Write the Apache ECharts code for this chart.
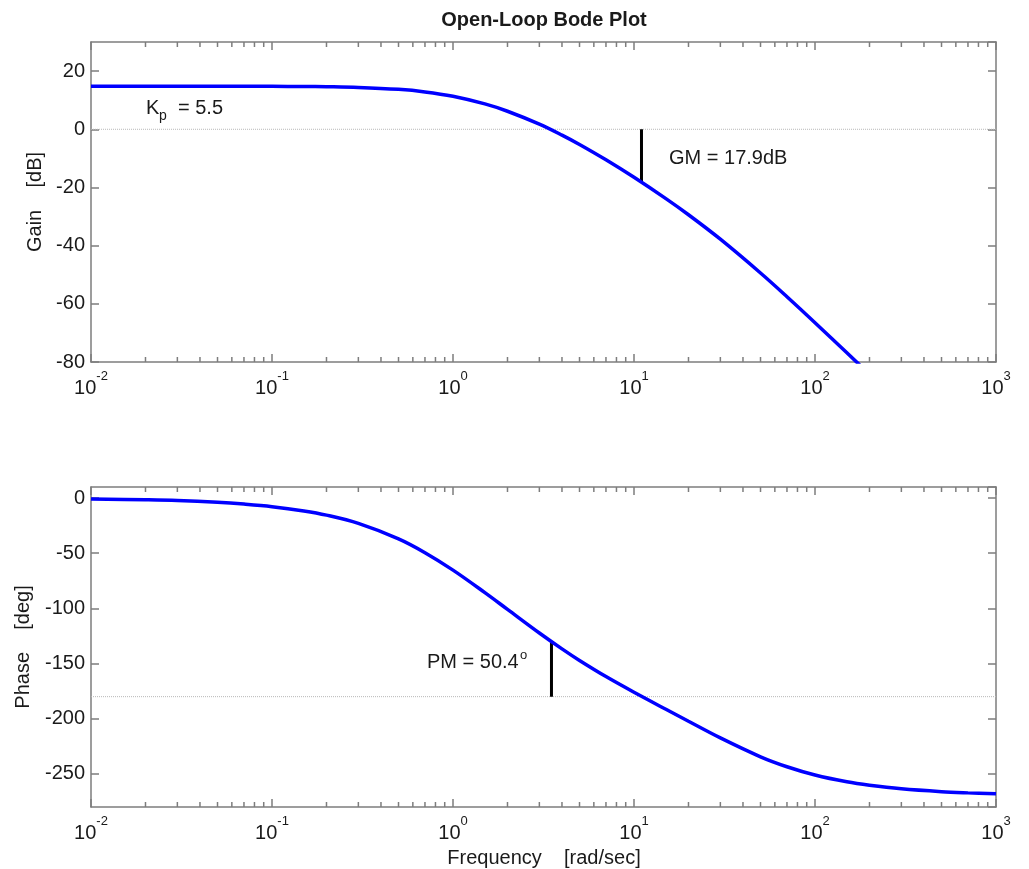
<!DOCTYPE html>
<html>
<head>
<meta charset="utf-8">
<script src="https://cdn.jsdelivr.net/npm/echarts@6/dist/echarts.min.js"></script>
<style>
html,body{margin:0;padding:0;background:#ffffff;}
#chart{width:1029px;height:869px;}
</style>
</head>
<body>
<div id="chart"></div>
<script>
// ---- data ----
const frequency = [0.01, 0.02, 0.03, 0.05, 0.07, 0.1, 0.15, 0.2, 0.3, 0.5, 0.7, 1, 1.5, 2, 3, 4, 5, 7, 10, 15, 20, 30, 50, 70, 100, 150, 200, 300, 500, 700, 1000];
const gainDb = [14.81, 14.81, 14.80, 14.80, 14.79, 14.76, 14.70, 14.62, 14.39, 13.72, 12.85, 11.34, 8.71, 6.20, 1.76, -2.01, -5.23, -10.50, -16.52, -23.85, -29.39, -37.79, -49.40, -57.55, -66.48, -76.84, -84.26, -94.8, -108.1, -116.8, -126.1];
const phaseDeg = [-0.8, -1.6, -2.3, -3.9, -5.5, -7.8, -11.7, -15.5, -23.0, -37.0, -49.5, -65.3, -85.7, -100.9, -122.3, -136.7, -147.2, -161.8, -176.0, -191.4, -202.3, -217.4, -234.5, -243.5, -251.0, -257.2, -260.3, -263.5, -266.1, -267.2, -268.1];

const gainReference = 0;        // 0 dB line
const phaseReference = -180;    // -180 deg line
const gmFrequency = 11.0;
const gmGain = -17.9;
const pmFrequency = 3.5;
const pmPhase = -129.6;

const freqRange = [0.01, 1000];
const gainRange = [-80, 30];
const phaseRange = [-280, 10];

const decadeStarts = [0.01, 0.1, 1, 10, 100];
const minorMultipliers = [2, 3, 4, 5, 6, 7, 8, 9];

const titleText = 'Open-Loop Bode Plot';
const gainTitle = 'Gain    [dB]';
const phaseTitle = 'Phase    [deg]';
const freqTitle = 'Frequency    [rad/sec]';
const gmText = 'GM = 17.9dB';
const pmText = 'PM = 50.4';
const kpMain = 'K';
const kpSub = 'p';
const kpRest = '= 5.5';

// ---- build chart ----
const FONT = "'Liberation Sans', Arial, Helvetica, sans-serif";
const AXIS_COLOR = '#7d7d7d';
const TEXT_COLOR = '#1a1a1a';

const minorTickValues = [];
decadeStarts.forEach(d => minorMultipliers.forEach(m => minorTickValues.push(d * m)));

const pairs = (xs, ys) => xs.map((x, i) => [x, ys[i]]);

function xAxisCfg(gridIndex, position, showLabel) {
  return {
    type: 'log', logBase: 10, gridIndex, position,
    min: freqRange[0], max: freqRange[1],
    axisLine: { show: true, onZero: false, lineStyle: { color: AXIS_COLOR, width: 1.5 } },
    axisTick: { show: true, inside: true, length: 8, lineStyle: { color: AXIS_COLOR, width: 1.5 } },
    splitLine: { show: false },
    minorTick: { show: false },
    axisLabel: {
      show: showLabel, margin: 8,
      formatter: v => '{b|10}{s|' + Math.round(Math.log10(v)) + '}',
      rich: {
        b: { fontSize: 20, lineHeight: 28, verticalAlign: 'bottom', fontFamily: FONT, color: TEXT_COLOR },
        s: { fontSize: 13, lineHeight: 13, verticalAlign: 'top', fontFamily: FONT, color: TEXT_COLOR }
      }
    }
  };
}
function yAxisCfg(gridIndex, position, range, showLabel, showMin) {
  return {
    type: 'value', gridIndex, position, min: range[0], max: range[1],
    axisLine: { show: true, onZero: false, lineStyle: { color: AXIS_COLOR, width: 1.5 } },
    axisTick: { show: true, inside: true, length: 8, lineStyle: { color: AXIS_COLOR, width: 1.5 } },
    splitLine: { show: false },
    axisLabel: { show: showLabel, margin: 6, fontSize: 20, fontFamily: FONT, color: TEXT_COLOR,
      showMaxLabel: false, showMinLabel: showMin }
  };
}

function minorTickRender(params, api) {
  const cs = params.coordSys;
  const x = api.coord([api.value(0), api.value(1)])[0];
  const st = { stroke: AXIS_COLOR, lineWidth: 1.5 };
  return {
    type: 'group',
    children: [
      { type: 'line', shape: { x1: x, y1: cs.y + cs.height, x2: x, y2: cs.y + cs.height - 5 }, style: st },
      { type: 'line', shape: { x1: x, y1: cs.y, x2: x, y2: cs.y + 5 }, style: st }
    ]
  };
}

const lineBase = { type: 'line', symbol: 'none', silent: true, animation: false };

const chart = echarts.init(document.getElementById('chart'), null, { renderer: 'canvas' });
chart.setOption({
  backgroundColor: '#ffffff',
  animation: false,
  grid: [
    { left: 91, top: 42, width: 905, height: 320, show: false, outerBoundsMode: 'none' },
    { left: 91, top: 487, width: 905, height: 320, show: false, outerBoundsMode: 'none' }
  ],
  xAxis: [
    xAxisCfg(0, 'bottom', true), xAxisCfg(0, 'top', false),
    xAxisCfg(1, 'bottom', true), xAxisCfg(1, 'top', false)
  ],
  yAxis: [
    yAxisCfg(0, 'left', gainRange, true, true), yAxisCfg(0, 'right', gainRange, false, true),
    yAxisCfg(1, 'left', phaseRange, true, false), yAxisCfg(1, 'right', phaseRange, false, false)
  ],
  series: [
    Object.assign({}, lineBase, { xAxisIndex: 0, yAxisIndex: 0, z: 1,
      data: [[freqRange[0], gainReference], [freqRange[1], gainReference]],
      lineStyle: { color: '#b8b8b8', width: 1, type: 'dotted' } }),
    Object.assign({}, lineBase, { xAxisIndex: 0, yAxisIndex: 0, z: 3, smooth: 0.35, clip: true,
      data: pairs(frequency, gainDb), lineStyle: { color: '#0000ff', width: 3.5 } }),
    Object.assign({}, lineBase, { xAxisIndex: 0, yAxisIndex: 0, z: 2,
      data: [[gmFrequency, gainReference], [gmFrequency, gmGain]],
      lineStyle: { color: '#000000', width: 3 } }),
    { type: 'custom', xAxisIndex: 0, yAxisIndex: 0, silent: true, z: 4, clip: false,
      data: minorTickValues.map(v => [v, gainRange[0]]), renderItem: minorTickRender },

    Object.assign({}, lineBase, { xAxisIndex: 2, yAxisIndex: 2, z: 1,
      data: [[freqRange[0], phaseReference], [freqRange[1], phaseReference]],
      lineStyle: { color: '#b8b8b8', width: 1, type: 'dotted' } }),
    Object.assign({}, lineBase, { xAxisIndex: 2, yAxisIndex: 2, z: 3, smooth: 0.35, clip: true,
      data: pairs(frequency, phaseDeg), lineStyle: { color: '#0000ff', width: 3.5 } }),
    Object.assign({}, lineBase, { xAxisIndex: 2, yAxisIndex: 2, z: 2,
      data: [[pmFrequency, phaseReference], [pmFrequency, pmPhase]],
      lineStyle: { color: '#000000', width: 3 } }),
    { type: 'custom', xAxisIndex: 2, yAxisIndex: 2, silent: true, z: 4, clip: false,
      data: minorTickValues.map(v => [v, phaseRange[0]]), renderItem: minorTickRender }
  ],
  graphic: [
    { type: 'text', x: 544, y: 20, style: { text: titleText, fontSize: 20, fontWeight: 'bold', fontFamily: FONT, fill: TEXT_COLOR, align: 'center', verticalAlign: 'middle' } },
    { type: 'text', x: 35, y: 202, rotation: Math.PI / 2, style: { text: gainTitle, fontSize: 20, fontFamily: FONT, fill: TEXT_COLOR, align: 'center', verticalAlign: 'middle' } },
    { type: 'text', x: 23, y: 647, rotation: Math.PI / 2, style: { text: phaseTitle, fontSize: 20, fontFamily: FONT, fill: TEXT_COLOR, align: 'center', verticalAlign: 'middle' } },
    { type: 'text', x: 544, y: 858, style: { text: freqTitle, fontSize: 20, fontFamily: FONT, fill: TEXT_COLOR, align: 'center', verticalAlign: 'middle' } },
    { type: 'text', x: 146, y: 108, style: { text: kpMain, fontSize: 20, fontFamily: FONT, fill: TEXT_COLOR, align: 'left', verticalAlign: 'middle' } },
    { type: 'text', x: 159, y: 116, style: { text: kpSub, fontSize: 14, fontFamily: FONT, fill: TEXT_COLOR, align: 'left', verticalAlign: 'middle' } },
    { type: 'text', x: 178, y: 108, style: { text: kpRest, fontSize: 20, fontFamily: FONT, fill: TEXT_COLOR, align: 'left', verticalAlign: 'middle' } },
    { type: 'text', x: 669, y: 158, style: { text: gmText, fontSize: 20, fontFamily: FONT, fill: TEXT_COLOR, align: 'left', verticalAlign: 'middle' } },
    { type: 'text', x: 427, y: 662, style: { text: pmText, fontSize: 20, fontFamily: FONT, fill: TEXT_COLOR, align: 'left', verticalAlign: 'middle' } },
    { type: 'text', x: 520, y: 655, style: { text: 'o', fontSize: 13, fontFamily: FONT, fill: TEXT_COLOR, align: 'left', verticalAlign: 'middle' } }
  ]
});
</script>
</body>
</html>
